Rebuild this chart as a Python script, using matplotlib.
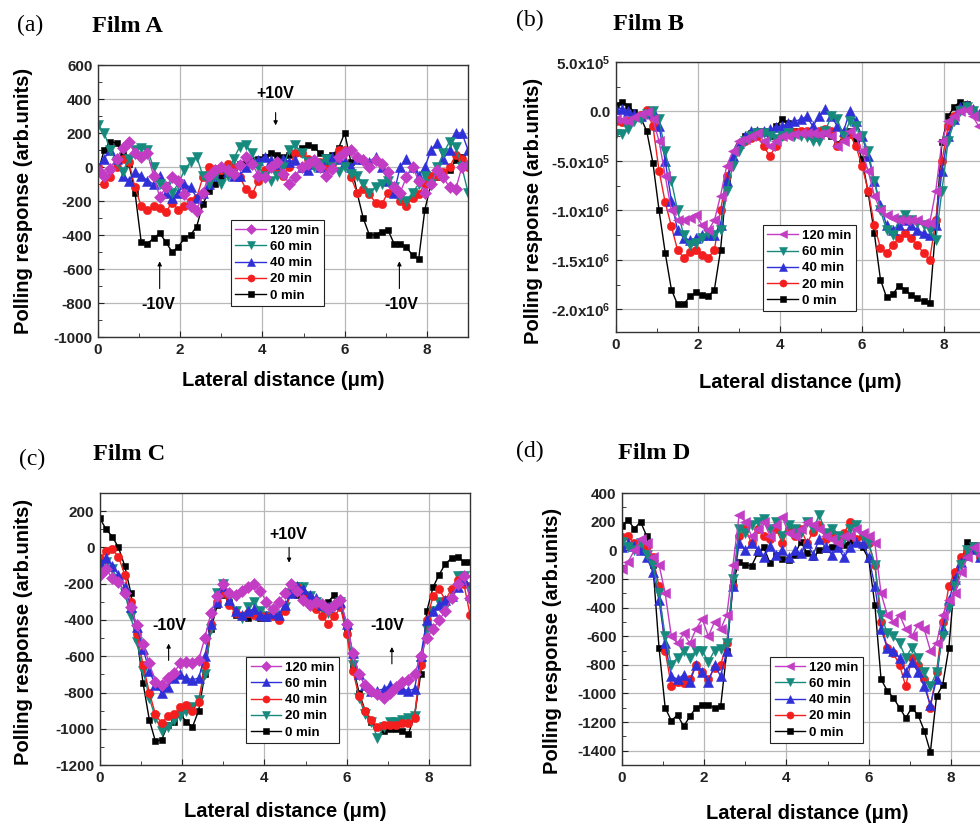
import numpy as np
import matplotlib
matplotlib.use('Agg')
import matplotlib.pyplot as plt
from matplotlib.ticker import MultipleLocator

plt.rcParams['font.family'] = ['Liberation Sans', 'DejaVu Sans']
plt.rcParams['font.weight'] = 'bold'
plt.rcParams['axes.unicode_minus'] = False
plt.rcParams['mathtext.fontset'] = 'custom'
plt.rcParams['mathtext.rm'] = 'Liberation Sans:bold'
plt.rcParams['mathtext.it'] = 'Liberation Sans:bold'
plt.rcParams['mathtext.bf'] = 'Liberation Sans:bold'

C_MAG = '#C23CC4'
C_TEAL = '#178A7E'
C_BLUE = '#3030D8'
C_RED = '#F41E1E'
C_BLACK = '#000000'
C_GRID = '#b8b8b8'

# lateral positions (um), 0.15 um sampling
X = np.round(np.arange(0, 9.0001, 0.15), 2)

# ---------------- Film A ----------------
A_0 = [-30, 100, 150, 140, 80, 20, -150, -440, -450, -420,
       -390, -440, -500, -470, -420, -400, -350, -220, -140, -100,
       -60, -20, 0, 20, 30, 40, 50, 60, 80, 70,
       60, 70, 80, 110, 130, 120, 80, 60, 70, 110,
       200, 30, -150, -300, -400, -400, -380, -370, -450, -450,
       -470, -520, -540, -250, -100, -60, -40, -20, 40, 60,
       10]
A_20 = [0, -100, -60, 0, 50, 30, -120, -230, -250, -230,
        -240, -265, -210, -250, -230, -200, -180, -60, 0, -10,
        -20, 20, 0, -60, -130, -160, -80, -20, 0, -20,
        -50, 0, 80, 80, 50, 30, 30, 0, 20, 100,
        100, -60, -150, -130, -160, -210, -220, -150, -150, -200,
        -230, -180, -160, -100, -50, -50, -30, 0, 70, 50,
        0]
A_40 = [0, 50, 100, 50, -50, -80, -30, -50, -80, -100,
        -50, -150, -180, -150, -100, -120, -180, -150, -100, -50,
        0, -30, -50, -50, 0, 30, 40, 60, 40, 20,
        50, 30, 40, 0, -20, 20, 0, 50, 60, 50,
        30, 0, 50, 50, 30, 60, 0, -80, -150, 0,
        50, 0, -50, 0, 100, 140, 50, 100, 200, 200,
        100]
A_60 = [250, 200, 100, 30, -30, 50, 100, 110, 100, 0,
        -100, -120, -150, -100, -20, 30, 60, -50, -100, -50,
        -100, -50, 50, 120, 130, 80, 0, -50, -80, -50,
        0, 100, 130, 80, 30, 0, 20, 50, 0, -30,
        0, -40, -50, -100, -150, -120, -100, -80, -120, -180,
        -200, -150, -100, -50, -100, 0, 80, 150, 120, 0,
        -150]
A_120 = [-20, -50, -10, 50, 110, 150, 80, 60, 80, -50,
         -175, -120, -60, -80, -160, -230, -260, -150, -50, -20,
         0, -20, -40, 10, 60, 20, -50, -60, 0, 30,
         -40, -100, -60, 0, 20, 40, 0, -50, -10, 60,
         90, 100, 60, 40, 0, 40, 20, -30, -120, -150,
         -60, 0, -80, -150, -100, -20, -60, -120, -130, 0,
         10]

# ---------------- Film B (x1e5) ----------------
B_0 = [0.7, 1.0, 0.6, -0.1, -0.6, -2.0, -5.2, -10.0, -14.3, -18.0,
       -19.5, -19.5, -18.7, -18.3, -18.6, -18.7, -18.0, -14.0, -7.0, -5.0,
       -3.5, -2.5, -2.2, -2.0, -2.0, -2.5, -1.5, -0.8, -1.2, -2.0,
       -2.2, -2.2, -2.2, -2.3, -2.2, -2.5, -3.3, -2.5, -2.0, -3.0,
       -4.8, -8.2, -12.3, -17.0, -18.8, -18.5, -17.6, -18.0, -18.6, -18.9,
       -19.2, -19.4, -11.6, -3.1, -0.5, 0.5, 1.0, 0.8, 0.2, -0.3,
       -1.0]
B_20 = [-1.0, -1.1, -1.0, -0.6, -0.4, 0.1, -1.5, -6.0, -9.2, -11.6,
        -14.0, -14.8, -14.2, -14.0, -14.5, -14.8, -14.0, -10.0, -6.5, -5.0,
        -3.5, -3.0, -2.7, -2.5, -3.5, -4.5, -3.5, -2.5, -2.2, -2.1,
        -2.0, -2.0, -2.0, -2.0, -1.8, -2.0, -3.5, -2.5, -2.3, -3.5,
        -5.5, -8.0, -11.5, -13.8, -14.3, -13.5, -12.8, -12.3, -12.8, -13.5,
        -14.3, -15.0, -11.0, -5.0, -1.5, -0.5, 0.3, 0.5, 0.0, -0.5,
        -1.0]
B_40 = [0.3, 0.3, 0.0, -0.3, -0.5, -0.2, 0.0, -1.5, -5.0, -9.0,
        -12.0, -12.8, -13.0, -12.8, -12.5, -12.5, -12.5, -11.5, -7.0, -4.5,
        -3.2, -2.5, -2.0, -2.0, -2.0, -1.8, -1.6, -1.5, -1.2, -1.0,
        -0.8, -0.5, -1.5, -0.5, 0.3, -0.5, -1.5, -2.0, 0.0, -1.0,
        -2.5, -4.5, -7.0, -9.5, -11.5, -12.0, -11.5, -11.0, -11.5, -12.0,
        -12.3, -12.5, -11.5, -6.0, -2.5, -0.8, 0.5, 0.7, 0.3, -0.3,
        -1.0]
B_60 = [-2.3, -2.3, -1.8, -1.0, -0.8, -0.3, 0.0, -0.8, -4.0, -7.0,
        -10.0, -12.5, -13.5, -13.3, -12.8, -12.3, -12.5, -12.0, -8.0, -5.5,
        -4.0, -3.0, -2.5, -2.2, -2.2, -2.5, -2.8, -2.5, -2.2, -2.5,
        -2.5, -2.6, -3.0, -3.0, -2.0, -0.5, -0.8, -2.5, -1.0, -1.5,
        -2.5, -4.0, -7.0, -10.0, -12.0, -12.5, -11.0, -10.5, -11.0, -11.3,
        -11.5, -12.0, -13.0, -8.0, -3.0, -1.0, 0.0, 0.5, 0.0, -0.5,
        -1.0]
B_120 = [-0.8, -0.9, -1.0, -0.6, -0.3, -0.1, -0.8, -3.0, -6.5, -10.0,
         -11.0, -11.0, -10.8, -10.5, -11.5, -12.0, -11.0, -8.5, -5.5, -4.0,
         -3.0, -2.8, -2.5, -2.2, -3.0, -3.5, -3.0, -2.5, -2.5, -2.3,
         -2.2, -2.2, -2.2, -2.3, -2.2, -2.5, -3.5, -3.0, -2.0, -2.5,
         -4.0, -6.0, -8.5, -10.0, -10.5, -10.8, -11.0, -11.0, -11.0, -11.0,
         -11.3, -11.3, -8.0, -3.0, -1.0, -0.5, 0.0, 0.2, -0.5, -1.5,
         -2.0]

# ---------------- Film C ----------------
C_0 = [160, 100, 60, 0, -100, -250, -500, -750, -950, -1070,
       -1060, -980, -960, -920, -960, -990, -900, -700, -450, -320,
       -260, -300, -370, -380, -390, -370, -390, -390, -370, -370,
       -330, -250, -260, -250, -280, -300, -330, -300, -260, -320,
       -450, -650, -800, -900, -960, -990, -1010, -1000, -1000, -1010,
       -1030, -930, -700, -350, -220, -150, -90, -60, -50, -80,
       -80]
C_20 = [-100, -80, -120, -180, -250, -380, -520, -680, -830, -940,
        -1010, -990, -950, -930, -900, -880, -840, -700, -450, -250,
        -200, -280, -350, -390, -330, -300, -350, -380, -350, -380,
        -330, -250, -220, -220, -270, -300, -340, -360, -330, -300,
        -450, -650, -830, -920, -960, -1050, -990, -960, -960, -950,
        -940, -930, -650, -450, -350, -300, -330, -250, -160, -160,
        -220]
C_40 = [-60, -20, -10, -50, -150, -300, -480, -650, -800, -920,
        -970, -930, -920, -880, -870, -900, -850, -650, -420, -300,
        -250, -320, -360, -380, -360, -370, -380, -380, -380, -400,
        -350, -250, -220, -280, -320, -340, -380, -420, -380, -330,
        -480, -680, -820, -900, -950, -990, -980, -980, -980, -970,
        -970, -940, -650, -400, -270, -230, -290, -230, -180, -200,
        -370]
C_60 = [-80, -60, -100, -150, -220, -330, -440, -560, -680, -760,
        -800, -770, -720, -700, -720, -730, -720, -600, -420, -300,
        -210, -290, -350, -370, -350, -340, -370, -380, -360, -370,
        -320, -250, -210, -230, -260, -280, -320, -330, -310, -300,
        -420, -580, -700, -760, -790, -790, -780, -760, -770, -780,
        -790, -780, -600, -400, -350, -320, -290, -270, -220, -180,
        -260]
C_120 = [-150, -120, -170, -190, -250, -330, -430, -530, -640, -740,
         -760, -720, -690, -640, -630, -640, -620, -500, -360, -270,
         -200, -250, -260, -240, -220, -200, -240, -300, -340, -300,
         -250, -200, -240, -290, -320, -300, -310, -340, -320, -290,
         -420, -580, -700, -760, -790, -810, -830, -800, -770, -740,
         -730, -700, -600, -500, -450, -400, -350, -280, -200, -160,
         -280]

# ---------------- Film D ----------------
D_0 = [170, 210, 150, 200, 100, -100, -680, -1100, -1190, -1150,
       -1230, -1160, -1100, -1080, -1080, -1100, -1090, -700, -220, -80,
       -100, -110, -20, 20, -90, -30, -60, -70, -30, 60,
       -20, -50, 0, 10, 20, 30, 40, 60, 80, 20,
       -60, -380, -900, -980, -1030, -1100, -1170, -1100, -1150, -1260,
       -1410, -1020, -940, -680, -170, -80, 60, 40, -30, -50,
       -80]
D_20 = [90, 100, 50, 0, 30, -50, -250, -700, -950, -920,
        -930, -900, -800, -850, -900, -820, -800, -650, -250, 100,
        150, 50, 150, 100, 80, 150, 50, 150, 100, 150,
        50, 130, 180, 80, 120, 100, 120, 200, 80, 100,
        50, -100, -500, -680, -720, -800, -950, -750, -800, -900,
        -1100, -850, -500, -250, -150, -50, 0, 30, -50, -100,
        -50]
D_40 = [20, 50, 30, 0, -50, -150, -350, -650, -880, -900,
        -870, -920, -800, -850, -920, -800, -880, -700, -250, 50,
        0, 50, 0, -50, 30, -30, 0, -50, 0, -20,
        50, -30, 80, 20, -30, 20, -50, 20, 60, 50,
        -50, -250, -550, -680, -700, -750, -850, -780, -850, -950,
        -1080, -900, -550, -350, -200, -80, -30, 10, -50, -130,
        -100]
D_60 = [60, 20, 0, 50, -30, -100, -300, -600, -800, -750,
        -700, -750, -700, -700, -780, -700, -690, -650, -200, 150,
        120, 180, 200, 220, 150, 200, 100, 180, 150, 120,
        200, 150, 250, 120, 150, 100, 80, 150, 180, 100,
        50, -100, -450, -580, -600, -650, -750, -680, -750, -850,
        -950, -850, -600, -400, -250, -100, 0, 20, -50, -100,
        -150]
D_120 = [-130, -80, 0, 80, 50, -50, -100, -300, -600, -650,
         -580, -650, -550, -480, -600, -500, -550, -450, -100, 250,
         200, 100, 150, 200, 100, 180, 230, 120, 100, 150,
         200, 180, 150, 100, 80, 50, 100, 100, 150, 120,
         100, 50, -300, -450, -500, -450, -550, -600, -520, -550,
         -700, -650, -450, -350, -300, -150, -50, 20, -30, -80,
         -100]

B_SCALE = 1e5
B_TICKS = [5e5, 0, -5e5, -1e6, -1.5e6, -2e6]
B_TICKLABELS = ['5.0x10$^5$', '0.0', '-5.0x10$^5$', '-1.0x10$^6$',
                '-1.5x10$^6$', '-2.0x10$^6$']

# legend order (top to bottom): label, data, colour, marker, size
SER_A = [('120 min', A_120, C_MAG, 'D', 5.8), ('60 min', A_60, C_TEAL, 'v', 7),
         ('40 min', A_40, C_BLUE, '^', 7), ('20 min', A_20, C_RED, 'o', 6),
         ('0 min', A_0, C_BLACK, 's', 4.5)]
SER_B = [('120 min', np.array(B_120) * B_SCALE, C_MAG, '<', 7),
         ('60 min', np.array(B_60) * B_SCALE, C_TEAL, 'v', 7),
         ('40 min', np.array(B_40) * B_SCALE, C_BLUE, '^', 7),
         ('20 min', np.array(B_20) * B_SCALE, C_RED, 'o', 6),
         ('0 min', np.array(B_0) * B_SCALE, C_BLACK, 's', 4.5)]
SER_C = [('120 min', C_120, C_MAG, 'D', 5.8), ('60 min', C_60, C_BLUE, '^', 7),
         ('40 min', C_40, C_RED, 'o', 6), ('20 min', C_20, C_TEAL, 'v', 7),
         ('0 min', C_0, C_BLACK, 's', 4.5)]
SER_D = [('120 min', D_120, C_MAG, '<', 7), ('60 min', D_60, C_TEAL, 'v', 7),
         ('40 min', D_40, C_BLUE, '^', 7), ('20 min', D_20, C_RED, 'o', 6),
         ('0 min', D_0, C_BLACK, 's', 4.5)]

W, H = 980, 826
fig = plt.figure(figsize=(W / 100, H / 100), dpi=100)
fig.patch.set_facecolor('white')


def panel(rect, series, ylim, ymaj, ymin, leg_xy, ylab_xy, xlab_y):
    ax = fig.add_axes(rect)
    for lab, y, col, mk, ms in series[::-1]:
        ax.plot(X, y, color=col, marker=mk, ms=ms, mec=col, mew=0.4,
                lw=1.0, label=lab)
    ax.set_xlim(0, 9)
    ax.set_ylim(*ylim)
    ax.xaxis.set_major_locator(MultipleLocator(2))
    ax.xaxis.set_minor_locator(MultipleLocator(1))
    ax.yaxis.set_major_locator(MultipleLocator(ymaj))
    ax.yaxis.set_minor_locator(MultipleLocator(ymin))
    ax.grid(True, which='major', color=C_GRID, lw=0.9)
    ax.set_axisbelow(True)
    ax.tick_params(which='both', direction='in', labelsize=11, pad=4,
                   colors='#222222')
    ax.tick_params(which='major', length=4)
    ax.tick_params(which='minor', length=3)
    for s in ax.spines.values():
        s.set_color('#333333')
        s.set_linewidth(1.0)
    ax.set_ylabel('Polling response (arb.units)', fontsize=14.5, fontweight='bold')
    ax.set_xlabel('Lateral distance (μm)', fontsize=14.5, fontweight='bold')
    ax.yaxis.set_label_coords(*ylab_xy)
    ax.xaxis.set_label_coords(0.5, xlab_y)
    h, l = ax.get_legend_handles_labels()
    leg = ax.legend(h[::-1], l[::-1], loc='upper left', bbox_to_anchor=leg_xy,
                    borderaxespad=0, prop={'weight': 'bold', 'size': 9.5},
                    frameon=True, fancybox=False, edgecolor='#222222',
                    framealpha=1, labelspacing=0.3, handlelength=2.3,
                    handletextpad=0.3, borderpad=0.35, markerscale=0.85)
    leg.get_frame().set_linewidth(0.8)
    return ax


def arrow(ax, x, y0, y1):
    ax.annotate('', xy=(x, y1), xytext=(x, y0),
                arrowprops=dict(arrowstyle='-|>', color='black', lw=0.8,
                                mutation_scale=6, shrinkA=0, shrinkB=0))


ax_a = panel([0.100, 0.592, 0.3776, 0.3293], SER_A, (-1000, 600), 200, 100,
             (0.359, 0.43), (-0.176, 0.5), -0.125)
ax_a.text(4.32, 433, '+10V', ha='center', va='center', fontsize=11.5, fontweight='bold')
arrow(ax_a, 4.32, 320, 245)
ax_a.text(1.47, -811, '-10V', ha='center', va='center', fontsize=11.5, fontweight='bold')
arrow(ax_a, 1.5, -715, -555)
ax_a.text(7.37, -811, '-10V', ha='center', va='center', fontsize=11.5, fontweight='bold')
arrow(ax_a, 7.33, -715, -555)

ax_b = panel([0.6286, 0.598, 0.3765, 0.3269], SER_B, (-2.23e6, 5e5), 5e5, 2.5e5,
             (0.398, 0.396), (-0.198, 0.45), -0.15)
ax_b.set_yticks(B_TICKS)
ax_b.set_yticklabels(B_TICKLABELS)

ax_c = panel([0.102, 0.0738, 0.3776, 0.3293], SER_C, (-1200, 300), 200, 100,
             (0.395, 0.397), (-0.181, 0.49), -0.135)
ax_c.text(4.58, 74, '+10V', ha='center', va='center', fontsize=11.5, fontweight='bold')
arrow(ax_c, 4.6, 0, -84)
ax_c.text(1.69, -428, '-10V', ha='center', va='center', fontsize=11.5, fontweight='bold')
arrow(ax_c, 1.67, -623, -530)
ax_c.text(6.98, -428, '-10V', ha='center', va='center', fontsize=11.5, fontweight='bold')
arrow(ax_c, 7.1, -642, -549)

ax_d = panel([0.6347, 0.0738, 0.3776, 0.3293], SER_D, (-1500, 400), 200, 100,
             (0.401, 0.397), (-0.163, 0.456), -0.145)

# panel tags and titles
serif = ['Liberation Serif', 'DejaVu Serif']
tags = [('(a)', 30, 25, 'Film A', 92, 27), ('(b)', 530, 20, 'Film B', 613, 25),
        ('(c)', 32, 459, 'Film C', 93, 455), ('(d)', 530, 451, 'Film D', 618, 454)]
for tag, tx, ty, title, fx, fy in tags:
    fig.text(tx / W, 1 - ty / H, tag, ha='center', va='center', fontsize=17,
             family=serif, fontweight='normal')
    fig.text(fx / W, 1 - fy / H, title, ha='left', va='center', fontsize=17.5,
             family=serif, fontweight='bold')

fig.savefig('out.png', dpi=100, facecolor='white')
